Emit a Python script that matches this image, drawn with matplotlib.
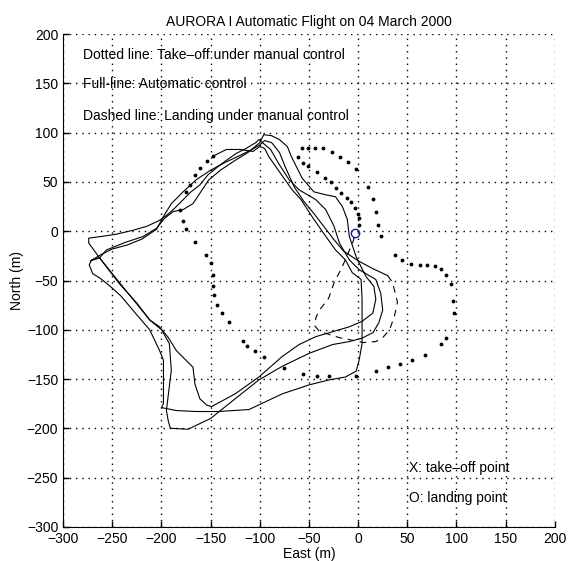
import matplotlib
matplotlib.use("Agg")
import matplotlib.pyplot as plt

plt.rcParams['font.family'] = ['Liberation Sans', 'DejaVu Sans']

# take-off under manual control (dotted), read point by point
takeoff_x = [1, 1, -0.3, -3, -7.5, -11.6, -17, -22, -27.6, -34, -41.5, -50.7, -55.8, -61,
             -57, -51, -44, -36, -27, -18, -10, -2, 10.5, 15.6, 18.4, 20.7, 23,
             37, 45, 54, 63, 70, 78, 84, 89.5, 94, 96, 98,
             89, 84, 68, 55, 43, 30, 18, -2, -30, -41.5, -56, -75, -96, -105,
             -112.6, -117, -131.6, -138, -143.5, -146.5, -147.5, -148, -150, -155,
             -166, -175, -178, -181, -175, -171, -166, -161, -154, -148]
takeoff_y = [6.5, 13, 18, 24, 30, 34, 39, 44, 50, 54, 60, 66, 69, 75,
             84, 85, 85, 84, 80, 75, 70, 63, 45, 33, 20, 6, -5,
             -24, -29, -33, -34, -34, -35, -38, -44, -54, -71, -83,
             -108, -114, -126, -131, -135, -138, -142, -147, -147, -147, -145, -139, -128, -122,
             -116, -111, -92.5, -83, -75, -65, -56, -44, -32, -24,
             -11, 2, 10, 22, 40, 47, 57, 64, 71, 76]

# automatic control (full lines), one array pair per lap
lap1_x = [-148, -134, -120, -107, -100, -95, -91, -84, -77, -67, -58, -47, -33, -23, -13,
          -6, 3, 4, 4, 4, 1, -2, -13, -30, -50, -77, -111, -143, -165, -185, -200,
          -198, -198, -198, -202, -212, -225, -241, -252, -262, -270, -273.5, -271, -263]
lap1_y = [76, 83, 83, 81, 86, 84, 76, 66, 56, 42, 32, 15, -5, -19, -29,
          -42, -49, -69, -90, -114, -131, -142, -148, -151, -156, -165, -181, -183, -183, -182, -179,
          -175, -150, -131, -121, -100, -85, -66, -56, -48, -43, -34, -29, -27]

lap2_x = [-263, -256, -236, -219, -205, -197, -188, -178, -168, -160, -152, -140, -125, -112,
          -100, -96, -88, -80, -72, -68, -64, -57, -45, -33, -23, -16, -11, -9, -2,
          8, 16, 18, 15, 4, -9, -26, -43, -60, -77, -101, -125, -149,
          -154, -161, -166, -168, -175, -185, -193, -202, -212, -225, -243, -263]
lap2_y = [-27, -19, -11, -5.5, 3, 13, 20, 22, 28, 40, 52, 62, 72, 80,
          90, 98, 97, 93, 86, 76, 68, 54, 40, 37, 35, 25, 12, -5, -26,
          -46, -56, -69, -83, -91.5, -97, -102, -107, -115, -127, -148, -165, -178,
          -176.5, -170, -155, -138, -131, -121, -108, -97, -90, -73, -53, -27]

lap3_x = [-263, -274, -274, -259, -246, -229, -215, -202, -195, -188, -180, -170, -161, -153,
          -142, -134, -124, -114, -104, -101, -89, -81, -70, -60, -43, -33, -24.5, -19, -9,
          1, 18, 23, 25, 21, 15, 4, -9, -26, -50, -77, -101, -125, -150, -173,
          -191, -193, -195, -190, -192, -200, -212, -242, -263, -272]
lap3_y = [-27, -12, -7, -5, -3, 1, 5, 11, 16, 22, 30, 40, 47, 57,
          66, 72, 79, 84, 90, 93, 83, 69, 52, 42, 32, 22, 5, -12, -29,
          -39, -49, -63, -80, -93, -103, -108.5, -112, -115, -124, -137, -151, -170, -190, -201,
          -200, -193, -182, -141, -114, -100, -90, -53, -27, -30]

lap4_x = [-272, -262, -250, -235, -220, -205, -198, -190, -178, -165, -150, -135, -120, -108,
          -101, -95, -88, -80, -74, -65, -55, -45, -35, -25, -15, 0, 15, 30]
lap4_y = [-30, -24, -18, -14, -8, 2, 15, 28, 40, 52, 62, 70, 77, 83,
          87, 92, 90, 80, 65, 45, 30, 18, 5, -8, -20, -30, -38, -45]

# landing under manual control (dashed)
landing_x = [30, 35, 40, 37, 32, 25, 18, 5, -9, -19, -32, -40, -44, -43, -40, -30, -24,
             -17, -10, -5, -3]
landing_y = [-45, -52, -72, -86, -100, -108, -112, -113, -110, -108, -104, -101, -96, -88,
             -81, -68, -51, -38, -22, -10, -3]

land_point = (-3, -2)

fig = plt.figure(figsize=(5.69, 5.61), dpi=100)
ax = fig.add_axes([0.111, 0.061, 0.864, 0.878])

ax.plot(takeoff_x, takeoff_y, linestyle='none', marker='.', markersize=3.5, color='k')
for lx, ly in [(lap1_x, lap1_y), (lap2_x, lap2_y), (lap3_x, lap3_y), (lap4_x, lap4_y)]:
    ax.plot(lx, ly, '-', color='k', linewidth=0.8)
ax.plot(landing_x, landing_y, color='k', linewidth=0.8, linestyle=(0, (6, 5)))
ax.plot([land_point[0]], [land_point[1]], marker='o', markersize=6, mfc='none',
        mec='#1a1aa0', mew=1.0, linestyle='none')

ax.set_xlim(-300, 200)
ax.set_ylim(-300, 200)
ax.set_xticks(range(-300, 201, 50))
ax.set_yticks(range(-300, 201, 50))
ax.grid(True, color='k', linestyle=(0, (1, 3.5)), linewidth=1.0)
ax.spines['top'].set_visible(False)
ax.spines['right'].set_visible(False)
ax.tick_params(direction='in', length=4, labelsize=10, width=1)

ax.text(-280, 179, "Dotted line: Take\u2013off under manual control", fontsize=10, va='center')
ax.text(-280, 149, "Full-line: Automatic control", fontsize=10, va='center')
ax.text(-280, 117, "Dashed line: Landing under manual control", fontsize=10, va='center')
ax.text(52, -240, "X: take\u2013off point", fontsize=10, va='center')
ax.text(52, -271, "O: landing point", fontsize=10, va='center')

ax.set_title("AURORA I Automatic Flight on 04 March 2000", fontsize=10, pad=6)
ax.set_xlabel("East (m)", fontsize=10, labelpad=1)
ax.set_ylabel("North (m)", fontsize=10, labelpad=2)

fig.savefig("out.png", dpi=100)
